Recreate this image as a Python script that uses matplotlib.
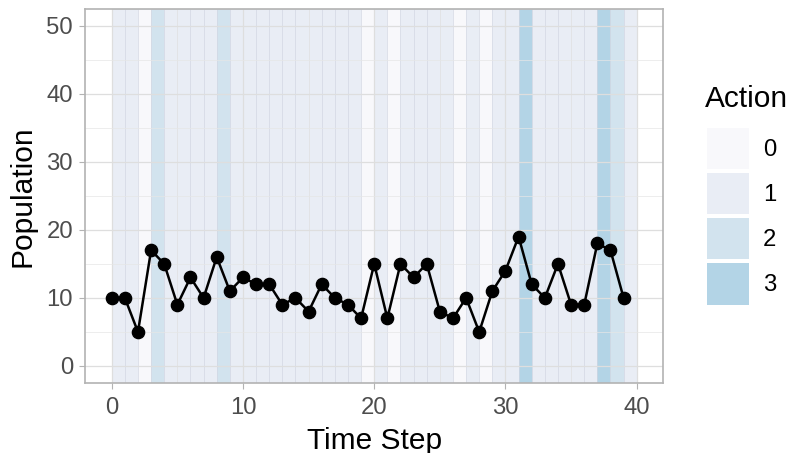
import matplotlib
matplotlib.use("Agg")
import matplotlib.pyplot as plt
from matplotlib.patches import Patch

plt.rcParams["font.family"] = ["Liberation Sans", "DejaVu Sans"]

# data
steps = list(range(40))
population = [10, 10, 5, 17, 15, 9, 13, 10, 16, 11,
              13, 12, 12, 9, 10, 8, 12, 10, 9, 7,
              15, 7, 15, 13, 15, 8, 7, 10, 5, 11,
              14, 19, 12, 10, 15, 9, 9, 18, 17, 10]
action = [1, 1, 0, 2, 1, 1, 1, 1, 2, 1,
          1, 1, 1, 1, 1, 1, 1, 1, 1, 0,
          1, 0, 1, 1, 1, 1, 0, 1, 0, 1,
          1, 3, 1, 1, 1, 1, 1, 3, 2, 1]
action_levels = [0, 1, 2, 3]
action_colors = ["#f8f8fb", "#e9edf5", "#d2e3ee", "#b3d4e6"]

fig = plt.figure(figsize=(7.87, 4.53), dpi=100)
ax = fig.add_axes([0.1086, 0.1545, 0.7338, 0.8267])

for s, a in zip(steps, action):
    ax.axvspan(s, s + 1, facecolor=action_colors[a],
               edgecolor=(0.78, 0.80, 0.86, 0.45), linewidth=0.6, zorder=0.5)

ax.plot(steps, population, color="black", lw=1.8, marker="o",
        markersize=8.8, zorder=3)

ax.set_xlim(-2, 42)
ax.set_ylim(-2.5, 52.5)
ax.set_xticks([0, 10, 20, 30, 40])
ax.set_yticks([0, 10, 20, 30, 40, 50])
ax.set_xticks([5, 15, 25, 35], minor=True)
ax.set_yticks([5, 15, 25, 35, 45], minor=True)
ax.grid(which="major", color="#dedede", lw=0.9, zorder=1)
ax.grid(which="minor", color="#e6e6e6", lw=0.5, zorder=1)
ax.set_axisbelow(False)
for ln in ax.get_xgridlines() + ax.get_ygridlines():
    ln.set_zorder(1)

ax.tick_params(which="major", length=4.5, width=0.8, color="#b3b3b3",
               labelsize=17.2, labelcolor="#4d4d4d")
ax.tick_params(axis="x", which="major", pad=5.5)
ax.tick_params(axis="y", which="major", pad=4.5)
ax.tick_params(which="minor", length=0)
for sp in ax.spines.values():
    sp.set_color("#b3b3b3")
    sp.set_linewidth(1.2)
    sp.set_zorder(4)

ax.set_xlabel("Time Step", fontsize=21.5, labelpad=5.5)
ax.set_ylabel("Population", fontsize=21.5, labelpad=7)

# legend: title drawn separately to get the ggplot spacing
fig.text(0.896, 1 - 107 / 453, "Action", fontsize=21.5, va="baseline",
         ha="left")
handles = [Patch(facecolor=c, edgecolor="none") for c in action_colors]
leg = fig.legend(handles, [str(v) for v in action_levels],
                 loc="upper left", bbox_to_anchor=(0.898, 1 - 128 / 453),
                 frameon=False, fontsize=17.2,
                 handlelength=1.76, handleheight=2.27, labelspacing=0.17,
                 handletextpad=0.6, borderaxespad=0, borderpad=0)

fig.savefig("out.png", dpi=100)
